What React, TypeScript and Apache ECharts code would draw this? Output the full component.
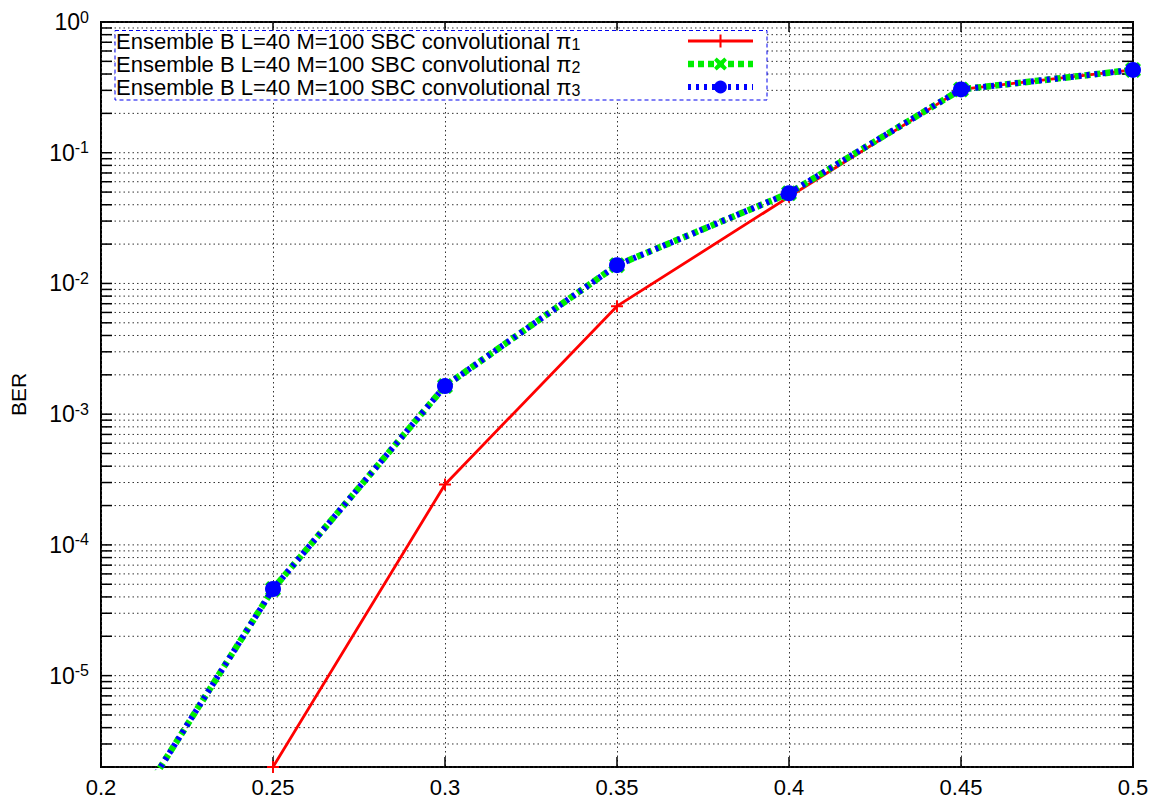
import React, { useEffect, useRef } from "react";
import * as echarts from "echarts";

const FONT = "'Liberation Sans', Arial, Helvetica, sans-serif";

const xTickValues = [0.2, 0.25, 0.3, 0.35, 0.4, 0.45, 0.5];

const seriesBase = "Ensemble B L=40 M=100 SBC convolutional π";
const seriesIndexes = ["1", "2", "3"];

const xPi1 = [0.25, 0.3, 0.35, 0.4, 0.45, 0.5];
const berPi1 = [2.0e-6, 2.9e-4, 6.7e-3, 4.6e-2, 0.305, 0.43];

const xPi2 = [0.2, 0.25, 0.3, 0.35, 0.4, 0.45, 0.5];
const berPi2 = [3.8e-7, 4.6e-5, 1.64e-3, 1.38e-2, 4.9e-2, 0.305, 0.43];

const xPi3 = [0.2, 0.25, 0.3, 0.35, 0.4, 0.45, 0.5];
const berPi3 = [3.8e-7, 4.6e-5, 1.64e-3, 1.38e-2, 4.9e-2, 0.305, 0.43];

const yMajorValues = [1e-5, 1e-4, 1e-3, 1e-2, 1e-1, 1];
const yMinorMantissas = [2, 3, 4, 5, 6, 7, 8, 9];
const yMinorDecades = [1e-6, 1e-5, 1e-4, 1e-3, 1e-2, 1e-1];

const Y_MIN = 2e-6;
const Y_MAX = 1;

function buildGridValues(): number[] {
  const out: number[] = [];
  yMinorDecades.forEach((d) =>
    yMinorMantissas.forEach((m) => {
      const v = m * d;
      if (v >= Y_MIN * 0.999 && v < Y_MAX) out.push(v);
    })
  );
  yMajorValues.forEach((v) => out.push(v));
  return out;
}

export default function App() {
  const ref = useRef<HTMLDivElement>(null);

  useEffect(() => {
    if (!ref.current) return;
    const chart = echarts.init(ref.current, null, { renderer: "svg" });

    const LEG_FS = 22;
    const SUB_FS = 16;
    const ctx = document.createElement("canvas").getContext("2d")!;
    ctx.font = `${LEG_FS}px ${FONT}`;
    const wMain = ctx.measureText(seriesBase).width;
    ctx.font = `${SUB_FS}px ${FONT}`;
    const wSub = ctx.measureText("1").width;
    const spacer = Math.max(1, 567 - wMain - wSub);

    const names = seriesIndexes.map((i) => seriesBase + i);
    const gridValues = buildGridValues();

    const toPairs = (xs: number[], ys: number[]) => xs.map((x, i) => [x, ys[i]]);

    const plusPath = "path://M4.2,0H5.8V4.2H10V5.8H5.8V10H4.2V5.8H0V4.2H4.2Z";
    const xPath =
      "path://M2,0L5,2.6L8,0L10,2L7.4,5L10,8L8,10L5,7.4L2,10L0,8L2.6,5L0,2Z";

    const option: any = {
      animation: false,
      backgroundColor: "#fff",
      textStyle: { fontFamily: FONT },
      grid: {
        left: 100,
        right: 28,
        top: 22,
        bottom: 36,
        show: true,
        borderColor: "#000",
        borderWidth: 2,
        backgroundColor: "transparent",
      },
      xAxis: [
        {
          type: "value",
          min: 0.2,
          max: 0.5,
          interval: 0.05,
          axisLine: { show: false },
          axisTick: {
            show: true,
            inside: true,
            length: 10,
            lineStyle: { color: "#000", width: 1.5 },
          },
          axisLabel: {
            color: "#000",
            fontSize: 22,
            lineHeight: 22,
            fontFamily: FONT,
            margin: 9,
            formatter: (v: number) => String(Number(v.toFixed(2))),
          },
          splitLine: {
            show: true,
            lineStyle: { color: "#333", width: 1, type: [1.5, 3] },
          },
        },
        {
          type: "value",
          position: "top",
          min: 0.2,
          max: 0.5,
          interval: 0.05,
          axisLine: { show: false },
          axisTick: {
            show: true,
            inside: true,
            length: 10,
            lineStyle: { color: "#000", width: 1.5 },
          },
          axisLabel: { show: false },
          splitLine: { show: false },
        },
      ],
      yAxis: {
        type: "log",
        logBase: 10,
        min: Y_MIN,
        max: Y_MAX,
        name: "BER",
        nameLocation: "middle",
        nameRotate: 90,
        nameGap: 72,
        nameTextStyle: { color: "#000", fontSize: 21, fontFamily: FONT },
        axisLine: { show: false },
        axisTick: { show: false },
        splitLine: { show: false },
        axisLabel: {
          color: "#000",
          margin: 12,
          formatter: (v: number) => {
            const e = Math.round(Math.log10(v));
            if (Math.abs(v - Math.pow(10, e)) / v > 1e-6) return "";
            return `{b|10}{s|${e}}`;
          },
          rich: {
            b: { fontSize: 23, lineHeight: 26, fontFamily: FONT, color: "#000" },
            s: {
              fontSize: 16,
              lineHeight: 6,
              verticalAlign: "top",
              fontFamily: FONT,
              color: "#000",
            },
          },
        },
      },
      legend: {
        data: names,
        orient: "vertical",
        left: 116,
        top: 30,
        align: "right",
        itemWidth: 65,
        itemHeight: 16,
        itemGap: 1,
        padding: 0,
        z: 12,
        lineStyle: { width: "inherit" },
        formatter: (name: string) => {
          const sub = name.slice(-1);
          const main = name.slice(0, -1);
          return `{t|${main}}{s|${sub}}{g| }`;
        },
        textStyle: {
          color: "#000",
          rich: {
            t: { fontSize: LEG_FS, lineHeight: 22, fontFamily: FONT, color: "#000" },
            s: {
              fontSize: SUB_FS,
              lineHeight: 5,
              verticalAlign: "bottom",
              fontFamily: FONT,
              color: "#000",
            },
            g: { width: spacer, fontSize: 10 },
          },
        },
      },
      graphic: [
        {
          type: "rect",
          z: 10,
          shape: { x: 115, y: 30.5, width: 652, height: 69.5 },
          style: {
            fill: "#fff",
            stroke: "#0000ee",
            lineWidth: 1,
            lineDash: [4, 3],
          },
          silent: true,
        },
      ],
      series: [
        {
          type: "custom",
          silent: true,
          z: 1,
          clip: false,
          encode: { x: 0, y: 1 },
          data: gridValues.map((v) => [0.2, v]),
          renderItem: (_params: any, api: any) => {
            const v = api.value(1);
            const p0 = api.coord([0.2, v]);
            const p1 = api.coord([0.5, v]);
            const tickStyle = { stroke: "#000", lineWidth: 1.5 };
            return {
              type: "group",
              children: [
                {
                  type: "line",
                  shape: { x1: p0[0], y1: p0[1], x2: p1[0], y2: p1[1] },
                  style: { stroke: "#333", lineWidth: 1, lineDash: [1.5, 3] },
                },
                {
                  type: "line",
                  shape: { x1: p0[0], y1: p0[1], x2: p0[0] + 11, y2: p0[1] },
                  style: tickStyle,
                },
                {
                  type: "line",
                  shape: { x1: p1[0] - 11, y1: p1[1], x2: p1[0], y2: p1[1] },
                  style: tickStyle,
                },
              ],
            };
          },
        },
        {
          name: names[0],
          type: "line",
          data: toPairs(xPi1, berPi1),
          symbol: plusPath,
          symbolSize: 12,
          clip: true,
          z: 3,
          lineStyle: { color: "#ff0000", width: 2.8, type: "solid" },
          itemStyle: { color: "#ff0000" },
        },
        {
          name: names[1],
          type: "line",
          data: toPairs(xPi2, berPi2),
          symbol: xPath,
          symbolSize: 16,
          clip: true,
          z: 4,
          lineStyle: { color: "#00ee00", width: 6.5, type: [6, 4] },
          itemStyle: { color: "#00ee00" },
        },
        {
          name: names[2],
          type: "line",
          data: toPairs(xPi3, berPi3),
          symbol: "circle",
          symbolSize: 16,
          clip: true,
          z: 5,
          lineStyle: { color: "#0000ff", width: 6, type: [3, 5] },
          itemStyle: { color: "#0000ff" },
        },
      ],
    };

    chart.setOption(option);
    return () => chart.dispose();
  }, []);

  return <div ref={ref} style={{ width: 1161, height: 803, margin: -8 }} />;
}
